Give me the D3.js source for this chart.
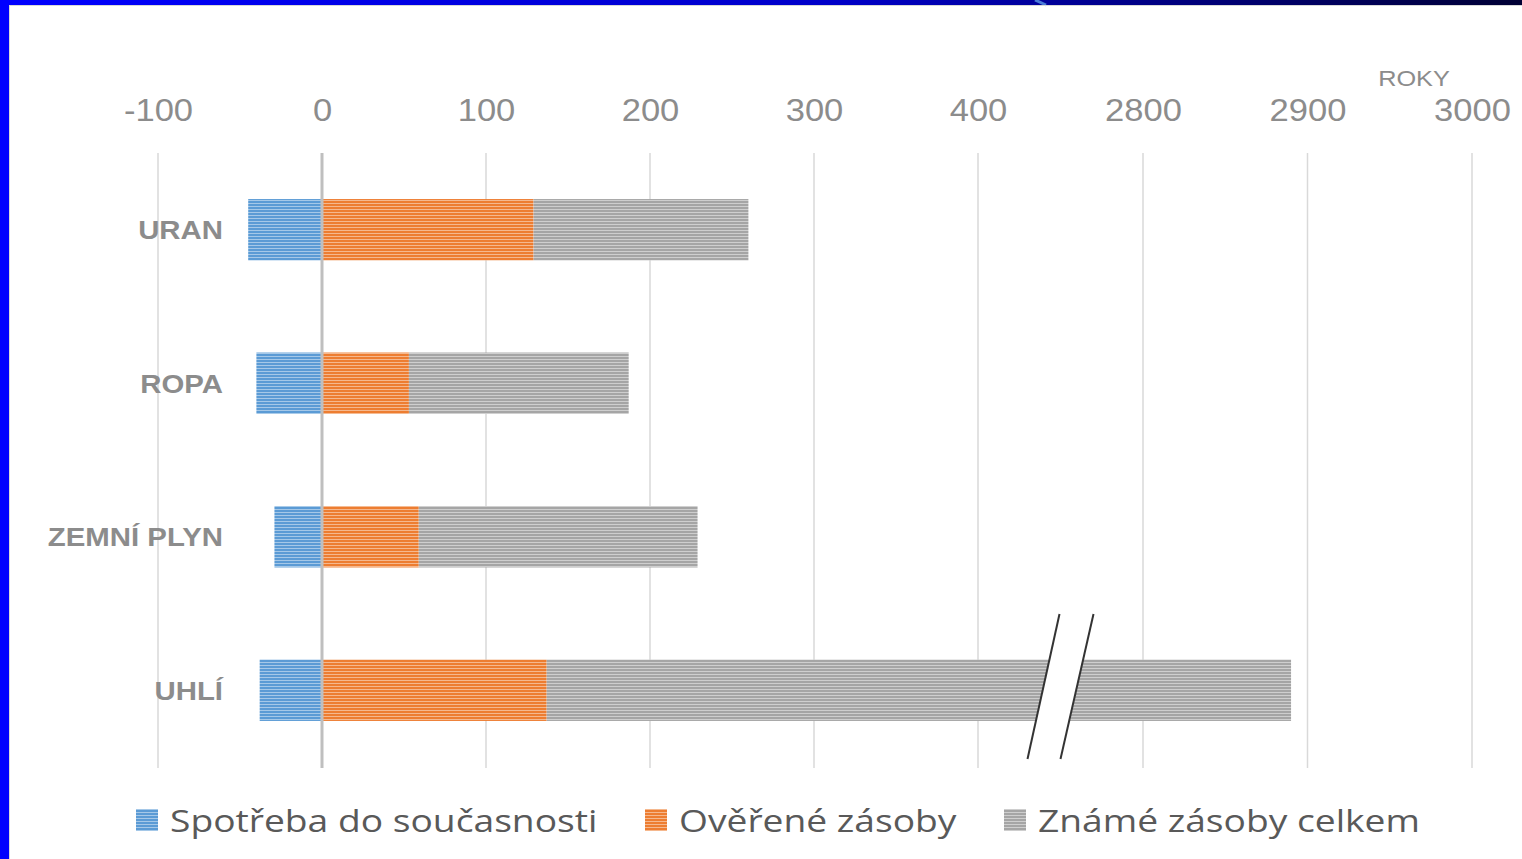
<!DOCTYPE html>
<html><head><meta charset="utf-8">
<script src="https://cdn.jsdelivr.net/npm/d3@7"></script>
<style>html,body{margin:0;padding:0;background:#fff;overflow:hidden}</style>
</head><body>
<svg id="c" width="1522" height="859"></svg>
<script>
const categories = ["URAN", "ROPA", "ZEMNÍ PLYN", "UHLÍ"];
const seriesNames = ["Spotřeba do současnosti", "Ověřené zásoby", "Známé zásoby celkem"];
const consumed = [-45, -40, -29, -38];      // spotřeba do současnosti (roky zpět)
const proven = [129, 53, 59, 137];          // ověřené zásoby (roky)
const knownTotal = [260, 187, 229, 2890];   // známé zásoby celkem (roky)
const tickValues = [-100, 0, 100, 200, 300, 400, 2800, 2900, 3000];
const axisTitle = "ROKY";

const colors = ["#5b9bd5", "#ed7d31", "#a5a5a5"];
const svg = d3.select("#c");
const W = 1522, H = 859;

function stretchAt(sel, sx) {
  sel.each(function(){
    const t = d3.select(this);
    const x0 = +t.attr("x") || 0, y0 = +t.attr("y") || 0;
    t.attr("transform", `translate(${x0},${y0}) scale(${sx},1) translate(${-x0},${-y0})`);
  });
}

// frame
const defs = svg.append("defs");
const grad = defs.append("linearGradient").attr("id","topg").attr("x1","0").attr("x2","1");
grad.append("stop").attr("offset","0").attr("stop-color","#0000ff");
grad.append("stop").attr("offset","0.55").attr("stop-color","#0000c8");
grad.append("stop").attr("offset","1").attr("stop-color","#000033");
svg.append("rect").attr("x",0).attr("y",0).attr("width",W).attr("height",5).attr("fill","url(#topg)");
svg.append("line").attr("x1",1035).attr("y1",0).attr("x2",1046).attr("y2",5).attr("stroke","#4a7bd8").attr("stroke-width",3);
svg.append("rect").attr("x",0).attr("y",0).attr("width",9).attr("height",H).attr("fill","#0000ff");
svg.append("line").attr("x1",9).attr("x2",W).attr("y1",5.5).attr("y2",5.5).attr("stroke","#d8d8d8");
svg.append("line").attr("x1",9.5).attr("x2",9.5).attr("y1",5).attr("y2",H).attr("stroke","#d8d8d8");

// patterns
colors.forEach((c,i)=>{
  const p = defs.append("pattern").attr("id","pat"+i).attr("patternUnits","userSpaceOnUse")
    .attr("width",6).attr("height",3);
  p.append("rect").attr("width",6).attr("height",3).attr("fill",c);
  p.append("rect").attr("y",2).attr("width",6).attr("height",1).attr("fill","#fff").attr("opacity",0.45);
});

// scales (broken axis: 400 -> 2800 squeezed)
const x = d3.scaleLinear().domain([-100, 400, 2800, 3000]).range([158, 978, 1143, 1472]);
const y = d3.scaleBand().domain(categories).range([153, 767]).paddingInner(0.6).paddingOuter(0.3);

// gridlines
svg.append("g").selectAll("line").data(tickValues.filter(d=>d!==0)).join("line")
  .attr("x1",d=>x(d)).attr("x2",d=>x(d)).attr("y1",153).attr("y2",768)
  .attr("stroke","#d9d9d9").attr("stroke-width",1.5);

// tick labels via axis
const ax = svg.append("g").attr("transform","translate(0,121)")
  .call(d3.axisTop(x).tickValues(tickValues).tickSize(0).tickPadding(0).tickFormat(d=>String(d)));
ax.select(".domain").remove();
ax.selectAll("text").attr("font-family","Liberation Sans, Arial, sans-serif").attr("font-size",32)
  .attr("fill","#8c8c8c").attr("dy","0").attr("y",0);
stretchAt(ax.selectAll("text"), 1.08);
const tt = svg.append("text").attr("x",1414).attr("y",86).attr("text-anchor","middle")
  .attr("font-family","Liberation Sans, Arial, sans-serif").attr("font-size",22).attr("fill","#8c8c8c").text(axisTitle);
stretchAt(tt, 1.15);

// bars
const g = svg.append("g");
categories.forEach((c,i)=>{
  const segs = [[consumed[i],0],[0,proven[i]],[proven[i],knownTotal[i]]];
  segs.forEach((s,j)=>{
    g.append("rect").attr("x",x(s[0])).attr("width",x(s[1])-x(s[0]))
      .attr("y",y(c)).attr("height",y.bandwidth()).attr("fill","url(#pat"+j+")");
  });
});

// zero line
svg.append("line").attr("x1",x(0)).attr("x2",x(0)).attr("y1",153).attr("y2",768)
  .attr("stroke","#bfbfbf").attr("stroke-width",3);

// category labels
const yl = d3.axisLeft(y).tickSize(0).tickPadding(0);
const yg = svg.append("g").attr("transform","translate(223,0)").call(yl);
yg.select(".domain").remove();
yg.selectAll("text").attr("font-family","Liberation Sans, Arial, sans-serif").attr("font-size",26)
  .attr("font-weight","bold").attr("fill","#8c8c8c").attr("dy","0.36em").attr("x",0);
stretchAt(yg.selectAll("text"), 1.13);

// axis break marks
const bx = (x(400)+x(2800))/2;
svg.append("polygon").attr("points",[[bx-33,759],[bx-1,614],[bx+33,614],[bx+1,759]].map(p=>p.join(",")).join(" "))
  .attr("fill","#fff");
[[bx-33,759,bx-1,614],[bx,759,bx+33,614]].forEach(l=>{
  svg.append("line").attr("x1",l[0]).attr("y1",l[1]).attr("x2",l[2]).attr("y2",l[3])
    .attr("stroke","#333").attr("stroke-width",2);
});

// legend
const legX = [136, 645, 1004];
seriesNames.forEach((n,i)=>{
  svg.append("rect").attr("x",legX[i]).attr("y",809).attr("width",22).attr("height",22).attr("fill","url(#pat"+i+")");
  const t = svg.append("text").attr("x",legX[i]+34).attr("y",832).attr("font-family","Open Sans, sans-serif")
    .attr("font-size",31).attr("fill","#595959").text(n);
  stretchAt(t, 1.2);
});
</script>
</body></html>
